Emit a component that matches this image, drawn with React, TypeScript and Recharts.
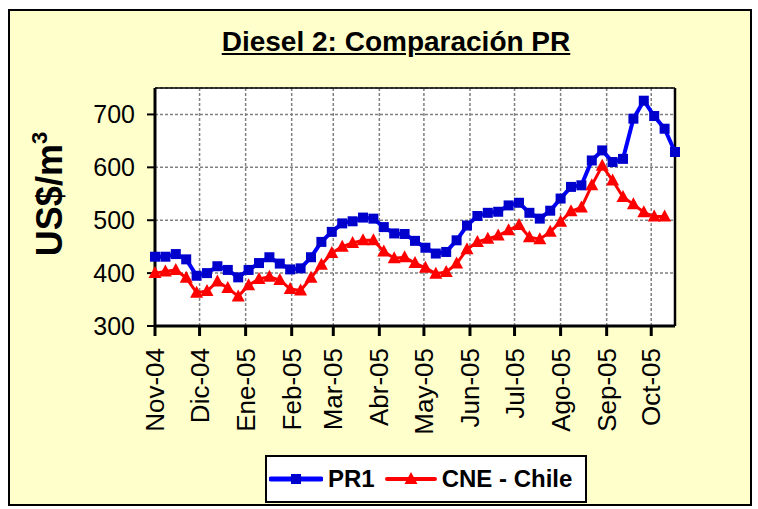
import React from "react";
import {
  LineChart,
  Line,
  XAxis,
  YAxis,
  CartesianGrid,
  Legend,
  ReferenceLine,
  Label
} from "recharts";

// weekly price dates
const weeks = [
  "2004-11-01", "2004-11-08", "2004-11-15", "2004-11-22", "2004-11-29",
  "2004-12-06", "2004-12-13", "2004-12-20", "2004-12-27",
  "2005-01-03", "2005-01-10", "2005-01-17", "2005-01-24", "2005-01-31",
  "2005-02-07", "2005-02-14", "2005-02-21", "2005-02-28",
  "2005-03-07", "2005-03-14", "2005-03-21", "2005-03-28",
  "2005-04-04", "2005-04-11", "2005-04-18", "2005-04-25",
  "2005-05-02", "2005-05-09", "2005-05-16", "2005-05-23", "2005-05-30",
  "2005-06-06", "2005-06-13", "2005-06-20", "2005-06-27",
  "2005-07-04", "2005-07-11", "2005-07-18", "2005-07-25",
  "2005-08-01", "2005-08-08", "2005-08-15", "2005-08-22", "2005-08-29",
  "2005-09-05", "2005-09-12", "2005-09-19", "2005-09-26",
  "2005-10-03", "2005-10-10", "2005-10-17"
];

const pr1 = [
  431, 431, 436, 426, 395, 400, 413, 406, 392, 406,
  419, 430, 418, 407, 409, 430, 459, 478, 494, 498,
  505, 503, 487, 475, 474, 461, 448, 437, 440, 462,
  490, 508, 514, 516, 528, 533, 514, 503, 518, 541,
  563, 566, 613, 632, 610, 616, 692, 726, 697, 673,
  629
];

const cneChile = [
  400, 403, 406, 391, 363, 366, 384, 372, 356, 377,
  389, 393, 387, 370, 367, 391, 416, 438, 450, 457,
  462, 462, 441, 428, 430, 419, 410, 399, 402, 418,
  445, 459, 465, 471, 481, 491, 468, 464, 478, 497,
  517, 524, 566, 603, 575, 544, 530, 515, 507, 507
];

const monthDates = [
  "2004-11-01", "2004-12-01", "2005-01-01", "2005-02-01",
  "2005-03-01", "2005-04-01", "2005-05-01", "2005-06-01",
  "2005-07-01", "2005-08-01", "2005-09-01", "2005-10-01"
];
const monthLabels = [
  "Nov-04", "Dic-04", "Ene-05", "Feb-05", "Mar-05", "Abr-05",
  "May-05", "Jun-05", "Jul-05", "Ago-05", "Sep-05", "Oct-05"
];

const yTicks = [300, 400, 500, 600, 700];
const lastDay = "2005-10-17";
const seriesOrder = ["pr1", "cne"];

const FONT = "Arial, 'Liberation Sans', sans-serif";
const DAY_MS = 86400000;
const start = Date.parse(weeks[0]);
const toDay = (d: string) => Math.round((Date.parse(d) - start) / DAY_MS);

const monthDays = monthDates.map(toDay);
const data = weeks.map((w, i) => ({
  day: toDay(w),
  pr1: pr1[i],
  cne: i < cneChile.length ? cneChile[i] : null
}));

const SquareDot = (props: any) => {
  const { cx, cy, index } = props;
  if (cx == null || cy == null) return <g key={`s${index}`} />;
  return (
    <rect key={`s${index}`} x={cx - 5} y={cy - 5} width={10} height={10} fill="#0000CC" />
  );
};

const TriangleDot = (props: any) => {
  const { cx, cy, index } = props;
  if (cx == null || cy == null) return <g key={`t${index}`} />;
  return (
    <polygon
      key={`t${index}`}
      points={`${cx},${cy - 7} ${cx - 6.5},${cy + 5} ${cx + 6.5},${cy + 5}`}
      fill="#FF0000"
    />
  );
};

const MonthTick = (props: any) => {
  const { x, y, payload } = props;
  const i = monthDays.indexOf(payload.value);
  const tx = x + 9;
  const ty = y + 10;
  return (
    <text
      x={tx}
      y={ty}
      transform={`rotate(-90 ${tx} ${ty})`}
      textAnchor="end"
      fontSize={26}
      fontFamily={FONT}
      fill="#000"
    >
      {i >= 0 ? monthLabels[i] : ""}
    </text>
  );
};

const YLabel = () => (
  <text
    x={62}
    y={194}
    transform="rotate(-90 62 194)"
    textAnchor="middle"
    fontSize={36}
    fontWeight="bold"
    fontFamily={FONT}
    fill="#000"
  >
    US$/m
    <tspan dy={-15} fontSize={22}>3</tspan>
  </text>
);

const LegendBox = (props: any) => {
  const items = [...(props.payload || [])].sort(
    (a: any, b: any) => seriesOrder.indexOf(a.dataKey) - seriesOrder.indexOf(b.dataKey)
  );
  return (
    <div
      style={{
        width: 322,
        height: 48,
        boxSizing: "border-box",
        border: "2px solid #000",
        background: "#fff",
        display: "flex",
        alignItems: "center",
        paddingLeft: 2,
        fontFamily: FONT,
        fontWeight: "bold",
        fontSize: 24,
        whiteSpace: "nowrap"
      }}
    >
      {items.map((it: any) => {
        const isPr = it.dataKey === "pr1";
        return (
          <div
            key={it.dataKey}
            style={{ display: "flex", alignItems: "center", flexShrink: 0, marginRight: isPr ? 10 : 0 }}
          >
            <svg width={isPr ? 54 : 52} height={16} style={{ marginRight: 5, flexShrink: 0 }}>
              <line x1={2} y1={8} x2={isPr ? 52 : 50} y2={8} stroke={it.color} strokeWidth={isPr ? 5 : 4} strokeLinecap="round" />
              {isPr ? (
                <rect x={22} y={3} width={10} height={10} fill="#0000CC" />
              ) : (
                <polygon points="26,1 19.5,13 32.5,13" fill="#FF0000" />
              )}
            </svg>
            <span>{it.value}</span>
          </div>
        );
      })}
    </div>
  );
};

export default function App() {
  return (
    <div style={{ position: "absolute", left: 0, top: 0, width: 758, height: 509 }}>
      <div
        style={{
          position: "absolute",
          left: 8,
          top: 9,
          width: 744,
          height: 497,
          boxSizing: "border-box",
          border: "2px solid #000",
          background: "#FFFFCC"
        }}
      />
      <div
        style={{
          position: "absolute",
          left: 196,
          top: 28,
          width: 400,
          textAlign: "center",
          fontFamily: FONT,
          fontWeight: "bold",
          fontSize: 28,
          lineHeight: "28px",
          textDecoration: "underline"
        }}
      >
        Diesel 2: Comparación PR
      </div>
      <div style={{ position: "absolute", left: 0, top: 0 }}>
        <LineChart
          width={758}
          height={509}
          data={data}
          margin={{ top: 88, right: 83, bottom: 0, left: 0 }}
        >
          <CartesianGrid stroke="#808080" strokeDasharray="3 2" strokeWidth={1.5} fill="#ffffff" />
          <XAxis
            dataKey="day"
            type="number"
            domain={[0, toDay(lastDay)]}
            ticks={monthDays}
            interval={0}
            height={183}
            tick={<MonthTick />}
            tickSize={10}
            axisLine={{ stroke: "#000", strokeWidth: 3 }}
            tickLine={{ stroke: "#000", strokeWidth: 3 }}
          />
          <YAxis
            type="number"
            domain={[300, 750]}
            ticks={yTicks}
            interval={0}
            width={155}
            tickSize={8}
            tickMargin={12}
            tick={{ fill: "#000", fontSize: 25, fontFamily: FONT }}
            axisLine={{ stroke: "#000", strokeWidth: 3 }}
            tickLine={{ stroke: "#000", strokeWidth: 2 }}
          >
            <Label content={<YLabel />} />
          </YAxis>
          <ReferenceLine y={750} stroke="#000" strokeWidth={1.5} />
          <ReferenceLine x={toDay(lastDay)} stroke="#000" strokeWidth={2.5} />
          <Line
            dataKey="pr1"
            name="PR1"
            stroke="#0000FF"
            strokeWidth={4}
            dot={SquareDot}
            activeDot={false}
            isAnimationActive={false}
          />
          <Line
            dataKey="cne"
            name="CNE - Chile"
            stroke="#FF0000"
            strokeWidth={3}
            dot={TriangleDot}
            activeDot={false}
            isAnimationActive={false}
          />
          <Legend
            layout="horizontal"
            verticalAlign="middle"
            align="center"
            content={<LegendBox />}
            wrapperStyle={{ left: 265, top: 455, width: 322, height: 48 }}
          />
        </LineChart>
      </div>
    </div>
  );
}
